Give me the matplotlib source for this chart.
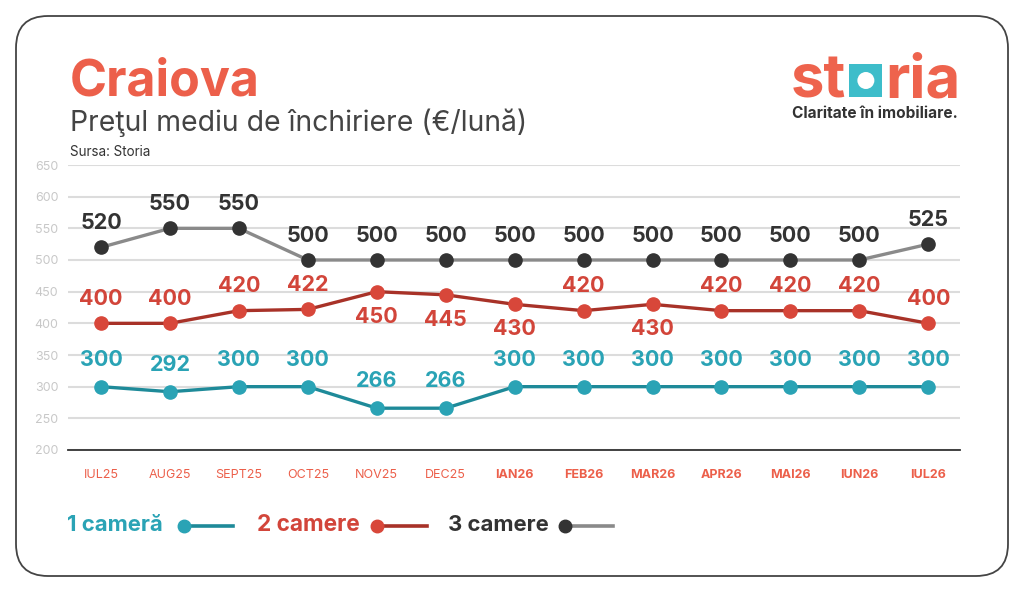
import matplotlib
matplotlib.use('Agg')
import matplotlib.pyplot as plt
from matplotlib.patches import FancyBboxPatch, Rectangle, Ellipse
from matplotlib.lines import Line2D
from matplotlib.transforms import IdentityTransform

# ---------------- data ----------------
months = ['IUL25', 'AUG25', 'SEPT25', 'OCT25', 'NOV25', 'DEC25', 'IAN26',
          'FEB26', 'MAR26', 'APR26', 'MAI26', 'IUN26', 'IUL26']
one_room = [300, 292, 300, 300, 266, 266, 300, 300, 300, 300, 300, 300, 300]
two_rooms = [400, 400, 420, 422, 450, 445, 430, 420, 430, 420, 420, 420, 400]
three_rooms = [520, 550, 550, 500, 500, 500, 500, 500, 500, 500, 500, 500, 525]
y_ticks = [200, 250, 300, 350, 400, 450, 500, 550, 600, 650]
series_names = ['1 cameră', '2 camere', '3 camere']

# label placement (style): which 2-room labels go below the point
two_below = [False, False, False, False, True, True, True, False, True, False, False, False, False]
bold_ticks = [False] * 6 + [True] * 7

plt.rcParams['font.family'] = ['Inter', 'DejaVu Sans']

W, H = 1024, 592
fig = plt.figure(figsize=(W / 100, H / 100), dpi=100, facecolor='white')

CORAL = '#ec5f4a'
TEAL_M = '#2aa3b5'
TEAL_L = '#1e8a99'
RED_M = '#d8473a'
RED_L = '#a83228'
RED_T = '#d2453a'
DARK = '#333333'
GRAY_L = '#8a8a8a'

# border
fig.add_artist(FancyBboxPatch((16, 16), 992, 560, boxstyle='round,pad=0,rounding_size=32',
                              transform=IdentityTransform(), facecolor='none',
                              edgecolor='#444444', linewidth=1.3))

# axes
ax = fig.add_axes([68 / W, (H - 450) / H, (960 - 68) / W, (450 - 165) / H])
x = list(range(len(months)))
ax.set_xlim(-0.479, 12.46)
ax.set_ylim(200, 650)

ax.plot(x, three_rooms, color=GRAY_L, lw=2.4, zorder=3)
ax.plot(x, three_rooms, 'o', color=DARK, ms=9.5, zorder=4)
ax.plot(x, two_rooms, color=RED_L, lw=2.4, zorder=3)
ax.plot(x, two_rooms, 'o', color=RED_M, ms=9.5, zorder=4)
ax.plot(x, one_room, color=TEAL_L, lw=2.4, zorder=3)
ax.plot(x, one_room, 'o', color=TEAL_M, ms=9.5, zorder=4)

lab_kw = dict(ha='center', va='center', fontsize=15.5, fontweight='bold',
              textcoords='offset points', zorder=5)
for i, v in enumerate(three_rooms):
    ax.annotate(str(v), (i, v), xytext=(0, 17.5), color=DARK, **lab_kw)
for i, v in enumerate(two_rooms):
    dy = -18 if two_below[i] else 17.5
    ax.annotate(str(v), (i, v), xytext=(0, dy), color=RED_T, **lab_kw)
for i, v in enumerate(one_room):
    ax.annotate(str(v), (i, v), xytext=(0, 19.5), color=TEAL_M, **lab_kw)

ax.set_yticks(y_ticks)
ax.set_yticklabels([str(t) for t in y_ticks])
ax.set_xticks(x)
ax.set_xticklabels(months)
for lbl, b in zip(ax.get_xticklabels(), bold_ticks):
    lbl.set_fontweight('bold' if b else 'normal')
ax.tick_params(axis='x', length=0, pad=14, labelsize=9, labelcolor=CORAL)
ax.tick_params(axis='y', length=0, pad=7, labelsize=9, labelcolor='#c8c8c8')
ax.yaxis.grid(True, color='#dcdcdc', lw=1.5, zorder=0)
ax.set_axisbelow(True)
for s in ['left', 'right', 'top']:
    ax.spines[s].set_visible(False)
ax.spines['bottom'].set_color('#333333')
ax.spines['bottom'].set_linewidth(1.3)
ax.spines['bottom'].set_zorder(2)
ax.set_facecolor('none')

fig.canvas.draw()
r = fig.canvas.get_renderer()


def ftxt(xp, yp, s, **kw):
    return fig.text(xp / W, 1 - yp / H, s, **kw)


def fit(t, width):
    bb = t.get_window_extent(renderer=r)
    t.set_fontsize(t.get_fontsize() * width / bb.width)


# titles
t = ftxt(70, 96, 'Craiova', fontsize=36, fontweight='bold', color=CORAL, va='baseline')
fit(t, 190)
t = ftxt(70, 131, 'Preţul mediu de închiriere (€/lună)', fontsize=17, color='#444444', va='baseline')
fit(t, 458)
t = ftxt(70, 156, 'Sursa: Storia', fontsize=7.5, color='#333333', va='baseline')
fit(t, 81)

# logo
t1 = ftxt(791, 97, 'st', fontsize=43, fontweight='bold', color='#ee634d', va='baseline')
bb = t1.get_window_extent(renderer=r)
sq_x = bb.x1 + 3
sq = 33
fig.add_artist(Rectangle((sq_x / W, (H - 97) / H), sq / W, sq / H, transform=fig.transFigure,
                         facecolor='#3dbdca', edgecolor='none'))
fig.add_artist(Ellipse(((sq_x + sq / 2) / W, (H - 97 + sq / 2) / H), 17 / W, 17 / H,
                       transform=fig.transFigure, facecolor='white', edgecolor='none'))
t2 = fig.text((sq_x + sq + 3) / W, 1 - 97 / H, 'ria', fontsize=43, fontweight='bold',
              color='#ee634d', va='baseline')
t = ftxt(792, 118, 'Claritate în imobiliare.', fontsize=10, fontweight='bold', color='#333333',
         va='baseline')
fit(t, 165)

# legend
leg = [(67, 163, 184, 233, series_names[0], TEAL_M, TEAL_M, TEAL_L),
       (257, 360, 377, 427, series_names[1], RED_T, RED_M, RED_L),
       (448, 549, 565, 613, series_names[2], DARK, DARK, GRAY_L)]
ly = 525
for x0, x1, cx, lx, name, tc, mc, lc in leg:
    t = ftxt(x0, ly, name, fontsize=15, fontweight='bold', color=tc, va='center')
    fit(t, x1 - x0)
    fig.add_artist(Line2D([cx / W, lx / W], [1 - (ly + 1) / H] * 2, transform=fig.transFigure,
                          color=lc, lw=2.6))
    fig.add_artist(Line2D([cx / W], [1 - (ly + 1) / H], transform=fig.transFigure,
                          marker='o', color=mc, ms=9))

fig.savefig('out.png', dpi=100, facecolor='white')
